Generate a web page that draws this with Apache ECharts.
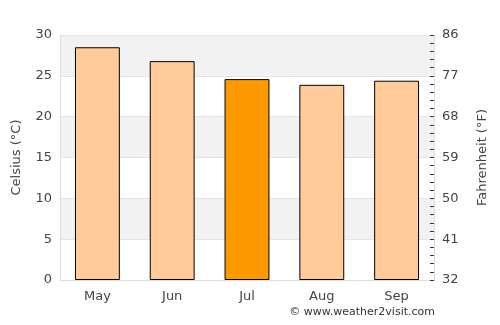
<!DOCTYPE html>
<html>
<head>
<meta charset="utf-8">
<script src="https://cdn.jsdelivr.net/npm/echarts@6/dist/echarts.min.js"></script>
<style>
  html, body { margin: 0; padding: 0; background: #fff; }
  #chart { width: 500px; height: 325px; }
</style>
</head>
<body>
<div id="chart"></div>
<script>
var months = ['May', 'Jun', 'Jul', 'Aug', 'Sep'];
var celsius = [28.5, 26.8, 24.6, 23.9, 24.4];
var highlightMonth = 'Jul';

var myChart = echarts.init(document.getElementById('chart'));

var barData = months.map(function (m, i) {
	return {
		value: celsius[i],
		itemStyle: { color: m === highlightMonth ? '#ff9900' : '#ffcc99' }
	};
});

var option = {
	animation: false,
	textStyle: { fontFamily: 'DejaVu Sans' },
	grid: {
		left: 60,
		right: 66,
		top: 35,
		bottom: 45
	},
	xAxis: {
		type: 'category',
		data: months,
		axisLine: { lineStyle: { color: '#dddddd' } },
		axisTick: { show: false },
		axisLabel: { color: '#444', fontSize: 13, margin: 10 }
	},
	yAxis: [
		{
			type: 'value',
			min: 0,
			max: 30,
			interval: 5,
			name: 'Celsius (°C)',
			nameLocation: 'middle',
			nameGap: 37,
			nameTextStyle: { color: '#444', fontSize: 13 },
			axisLine: { show: true, lineStyle: { color: '#dddddd' } },
			axisTick: { show: false },
			axisLabel: { color: '#444', fontSize: 13, margin: 8 },
			splitLine: { show: true, lineStyle: { color: '#e4e4e4' } },
			splitArea: { show: true, areaStyle: { color: ['#ffffff', '#f2f2f2'] } }
		},
		{
			type: 'value',
			position: 'right',
			min: 0,
			max: 30,
			interval: 5,
			name: 'Fahrenheit (°F)',
			nameLocation: 'middle',
			nameGap: 42,
			nameTextStyle: { color: '#444', fontSize: 13 },
			axisLine: { show: true, lineStyle: { color: '#dddddd' } },
			axisTick: { show: true, inside: true, length: 4, lineStyle: { color: '#333' } },
			minorTick: { show: true, splitNumber: 5, length: 4, lineStyle: { color: '#333' } },
			axisLabel: {
				color: '#444',
				fontSize: 13,
				margin: 8,
				formatter: function (v) { return Math.round(v * 9 / 5 + 32); }
			},
			splitLine: { show: false }
		}
	],
	graphic: [
		{
			type: 'text',
			right: 65,
			top: 307,
			style: { text: '© www.weather2visit.com', fill: '#333', font: '11px DejaVu Sans' }
		}
	],
	series: [
		{
			type: 'bar',
			data: barData,
			barWidth: '60%',
			itemStyle: { borderColor: '#000', borderWidth: 1 }
		}
	]
};
myChart.setOption(option);
</script>
</body>
</html>
